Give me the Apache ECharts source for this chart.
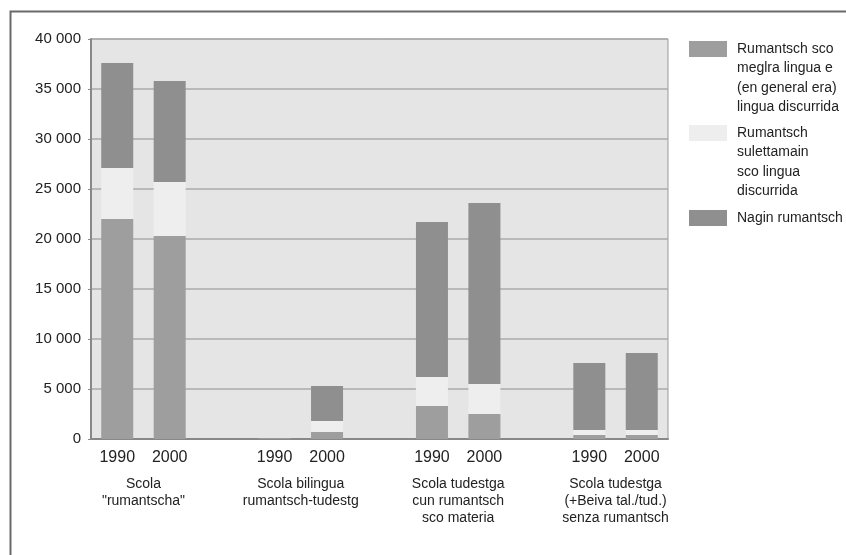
<!DOCTYPE html>
<html>
<head>
<meta charset="utf-8">
<script src="https://cdn.jsdelivr.net/npm/echarts@6/dist/echarts.min.js"></script>
<style>
html,body{margin:0;padding:0;background:#fff;}
#chart{width:846px;height:555px;}
</style>
</head>
<body>
<div id="chart"></div>
<script>
// Categories (11 slots: 4 groups of 2 bars with empty gap slots)
var categories = ["1990", "2000", "", "1990", "2000", "", "1990", "2000", "", "1990", "2000"];
// Group labels (centered between the two bars of each group)
var groupLabels = ["Scola\n\"rumantscha\"", "Scola bilingua\nrumantsch-tudestg", "Scola tudestga\ncun rumantsch\nsco materia", "Scola tudestga\n(+Beiva tal./tud.)\nsenza rumantsch"];
var groupPositions = [1, 4, 7, 10];

// Series values
var meglraLingua = [22000, 20300, null, 30, 700, null, 3300, 2500, null, 400, 400];
var sulettamain  = [5100, 5400, null, 20, 1100, null, 2900, 3000, null, 500, 500];
var naginRumantsch = [10500, 10100, null, 50, 3500, null, 15500, 18100, null, 6700, 7700];

var seriesNames = ["Rumantsch sco meglra lingua e (en general era) lingua discurrida", "Rumantsch sulettamain sco lingua discurrida", "Nagin rumantsch"];
var legendLabels = ["Rumantsch sco\nmeglra lingua e\n(en general era)\nlingua discurrida", "Rumantsch\nsulettamain\nsco lingua\ndiscurrida", "Nagin rumantsch"];
var colors = ["#9e9e9e", "#eeeeee", "#8f8f8f"];

// Y axis ticks
var yMin = 0, yMax = 40000, yStep = 5000;

var FONT = "'Liberation Sans', Arial, sans-serif";

function fmtThousands(v) {
  var s = String(v);
  return s.replace(/\B(?=(\d{3})+(?!\d))/g, " ");
}

var chart = echarts.init(document.getElementById('chart'), null, {renderer: 'canvas'});

var legendGraphics = [];
var legendTop = [41, 125, 210];
for (var i = 0; i < legendLabels.length; i++) {
  legendGraphics.push({
    type: 'rect', left: 689, top: legendTop[i],
    shape: {width: 38, height: 16},
    style: {fill: colors[i]}
  });
  legendGraphics.push({
    type: 'text', left: 737, top: legendTop[i] - 2,
    style: {text: legendLabels[i], font: "14px " + FONT, fill: '#222', lineHeight: 19.5}
  });
}

var option = {
  animation: false,
  backgroundColor: '#ffffff',
  textStyle: {fontFamily: FONT},
  grid: {
    left: 91, right: 178, top: 39, bottom: 116,
    show: true, backgroundColor: '#e5e5e5', borderColor: '#999999', borderWidth: 1
  },
  xAxis: [{
    type: 'category',
    data: categories,
    axisLine: {show: true, lineStyle: {color: '#888888', width: 2}},
    axisTick: {show: false},
    axisLabel: {fontSize: 16, color: '#222', margin: 11, interval: 0, fontFamily: FONT}
  }, {
    type: 'value',
    position: 'bottom',
    min: 0, max: 11, interval: 1,
    axisLine: {show: false},
    axisTick: {show: false},
    splitLine: {show: false},
    axisLabel: {
      fontSize: 14, color: '#222', margin: 37, lineHeight: 17, fontFamily: FONT,
      showMinLabel: false, showMaxLabel: false,
      formatter: function (v) {
        var idx = groupPositions.indexOf(v);
        return idx >= 0 ? groupLabels[idx] : '';
      }
    }
  }],
  yAxis: {
    type: 'value',
    min: yMin, max: yMax, interval: yStep,
    axisLine: {show: true, lineStyle: {color: '#888888', width: 2}},
    axisTick: {show: true, length: 3, lineStyle: {color: '#888888'}},
    splitLine: {show: true, lineStyle: {color: '#aaaaaa', width: 1.5}},
    axisLabel: {fontSize: 15, color: '#222', margin: 10, fontFamily: FONT, formatter: fmtThousands}
  },
  series: [
    {name: seriesNames[0], type: 'bar', stack: 's', data: meglraLingua, barWidth: 32, itemStyle: {color: colors[0]}},
    {name: seriesNames[1], type: 'bar', stack: 's', data: sulettamain, barWidth: 32, itemStyle: {color: colors[1]}},
    {name: seriesNames[2], type: 'bar', stack: 's', data: naginRumantsch, barWidth: 32, itemStyle: {color: colors[2]}}
  ],
  graphic: [{
    type: 'rect', left: 8, top: 9, silent: true,
    shape: {width: 900, height: 700},
    style: {fill: 'none', stroke: '#6a6a6a', lineWidth: 2}
  }].concat(legendGraphics)
};

chart.setOption(option);
</script>
</body>
</html>
